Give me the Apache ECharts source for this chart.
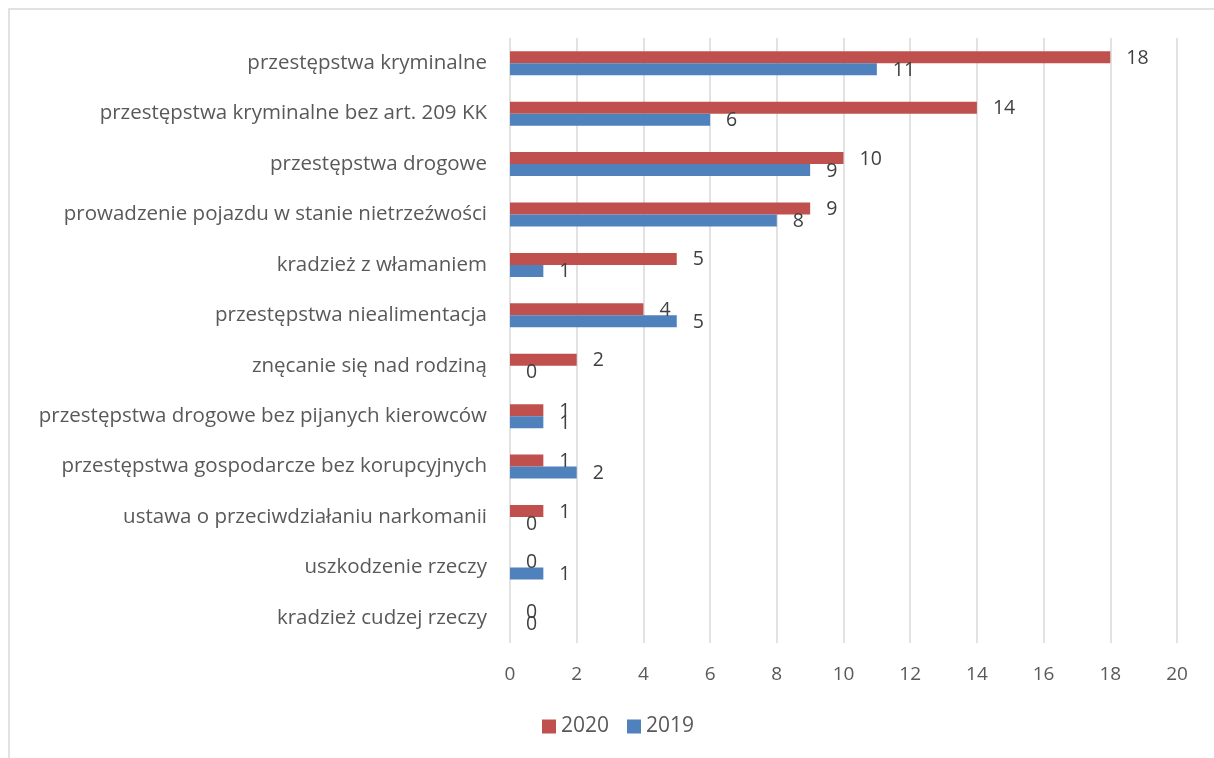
<!DOCTYPE html>
<html>
<head>
<meta charset="utf-8">
<script src="https://cdn.jsdelivr.net/npm/echarts@6/dist/echarts.min.js"></script>
<style>
  html, body { margin: 0; padding: 0; background: #fff; }
  #chart { width: 1214px; height: 758px; }
</style>
</head>
<body>
<div id="chart"></div>
<script>
// kategorie od góry do dołu
var categories = [
  'przestępstwa kryminalne',
  'przestępstwa kryminalne bez art. 209 KK',
  'przestępstwa drogowe',
  'prowadzenie pojazdu w stanie nietrzeźwości',
  'kradzież z włamaniem',
  'przestępstwa niealimentacja',
  'znęcanie się nad rodziną',
  'przestępstwa drogowe bez pijanych kierowców',
  'przestępstwa gospodarcze bez korupcyjnych',
  'ustawa o przeciwdziałaniu narkomanii',
  'uszkodzenie rzeczy',
  'kradzież cudzej rzeczy'
];
var values2020 = [18, 14, 10, 9, 5, 4, 2, 1, 1, 1, 0, 0];
var values2019 = [11, 6, 9, 8, 1, 5, 0, 1, 2, 0, 1, 0];

var font = '"Open Sans", Lato, sans-serif';

var chart = echarts.init(document.getElementById('chart'));

function barSeries(name, data, color) {
  return {
    name: name,
    type: 'bar',
    data: data,
    barWidth: 12,
    barGap: '0%',
    itemStyle: { color: color },
    label: {
      show: true,
      position: 'right',
      distance: 16,
      offset: [0, 1],
      color: '#404040',
      fontSize: 19.5,
      fontFamily: font
    },
    emphasis: { disabled: true }
  };
}

chart.setOption({
  backgroundColor: '#fff',
  animation: false,
  graphic: [{
    type: 'rect',
    shape: { x: 9, y: 9, width: 1400, height: 1000 },
    style: { fill: 'none', stroke: '#d9d9d9', lineWidth: 1.5 },
    silent: true
  }],
  grid: { left: 510, right: 37, top: 38, bottom: 115 },
  legend: {
    data: ['2020', '2019'],
    left: 542,
    top: 716,
    padding: 0,
    itemWidth: 14,
    itemHeight: 14,
    itemGap: 18,
    icon: 'rect',
    textStyle: { color: '#595959', fontSize: 21, fontFamily: font, padding: [3, 0, 0, 0] }
  },
  xAxis: {
    type: 'value',
    min: 0,
    max: 20,
    interval: 2,
    axisLine: { show: false },
    axisTick: { show: false },
    axisLabel: { color: '#595959', fontSize: 19, fontFamily: font, margin: 22 },
    splitLine: { lineStyle: { color: '#d9d9d9', width: 1.5 } }
  },
  yAxis: {
    type: 'category',
    data: categories,
    inverse: true,
    axisLine: { show: false },
    axisTick: { show: false },
    axisLabel: { color: '#595959', fontSize: 20.5, fontFamily: font, margin: 23 }
  },
  series: [
    barSeries('2020', values2020, '#c0504d'),
    barSeries('2019', values2019, '#4f81bd')
  ]
});
</script>
</body>
</html>
